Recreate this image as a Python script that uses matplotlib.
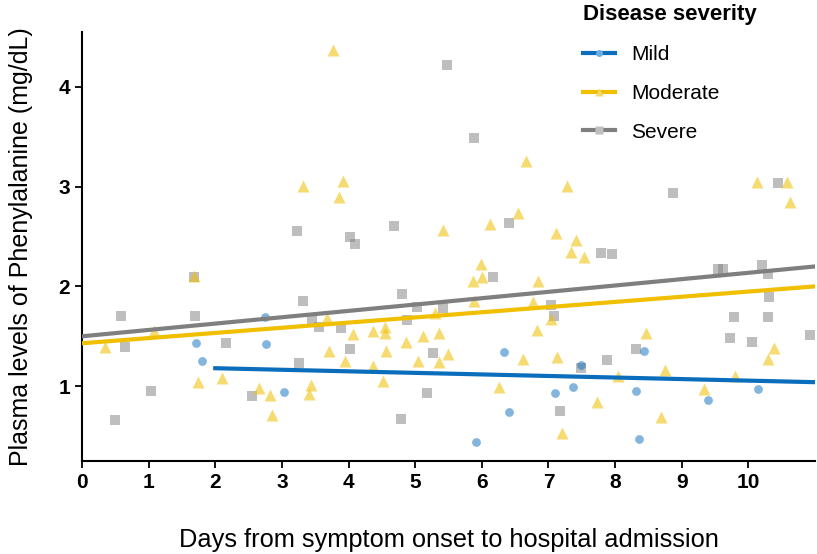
import numpy as np
import matplotlib.pyplot as plt
from matplotlib.lines import Line2D

plt.rcParams['font.family'] = ['Liberation Sans', 'DejaVu Sans']

# Mild
mild_x = [1.71, 1.80, 2.76, 2.74, 3.03, 5.92, 6.34, 6.41, 7.10, 7.37, 7.49,
          8.32, 8.36, 8.44, 9.40, 10.15]
mild_y = [1.43, 1.25, 1.42, 1.69, 0.94, 0.44, 1.34, 0.74, 0.93, 0.99, 1.21,
          0.95, 0.47, 1.35, 0.86, 0.97]

# Moderate
mod_x = [0.35, 1.08, 1.68, 1.74, 2.10, 2.66, 2.82, 2.85, 3.31, 3.41, 3.44,
         3.67, 3.71, 3.76, 3.86, 3.92, 3.95, 4.07, 4.37, 4.37, 4.52, 4.55,
         4.55, 4.56, 4.86, 5.04, 5.12, 5.30, 5.36, 5.36, 5.41, 5.49, 5.87,
         5.89, 5.99, 6.01, 6.13, 6.26, 6.55, 6.62, 6.67, 6.77, 6.83, 6.85,
         7.04, 7.12, 7.13, 7.21, 7.28, 7.34, 7.41, 7.53, 7.73, 8.05, 8.47,
         8.69, 8.75, 9.34, 9.80, 10.13, 10.29, 10.39, 10.58, 10.63]
mod_y = [1.39, 1.55, 2.10, 1.04, 1.08, 0.98, 0.91, 0.71, 3.01, 0.92, 1.01,
         1.68, 1.35, 4.37, 2.90, 3.06, 1.25, 1.52, 1.55, 1.20, 1.05, 1.59,
         1.53, 1.35, 1.44, 1.25, 1.50, 1.73, 1.53, 1.24, 2.57, 1.32, 2.05,
         1.85, 2.22, 2.09, 2.63, 0.99, 2.74, 1.27, 3.26, 1.84, 1.56, 2.05,
         1.67, 2.54, 1.29, 0.53, 3.01, 2.34, 2.47, 2.29, 0.84, 1.10, 1.53,
         0.69, 1.16, 0.97, 1.10, 3.05, 1.27, 1.38, 3.05, 2.85]

# Severe
sev_x = [0.50, 0.59, 0.65, 1.04, 1.68, 1.70, 2.16, 2.55, 3.23, 3.26, 3.32,
         3.45, 3.55, 3.89, 4.02, 4.10, 4.02, 4.68, 4.79, 4.80, 4.88, 5.03,
         5.17, 5.27, 5.42, 5.48, 5.89, 6.17, 6.41, 7.04, 7.09, 7.18, 7.49,
         7.79, 7.88, 7.96, 8.32, 8.87, 9.55, 9.62, 9.73, 9.79, 10.05, 10.20,
         10.29, 10.30, 10.31, 10.45, 10.92]
sev_y = [0.66, 1.70, 1.39, 0.95, 2.09, 1.70, 1.43, 0.90, 2.56, 1.23, 1.85,
         1.67, 1.59, 1.58, 2.50, 2.43, 1.37, 2.61, 0.67, 1.92, 1.66, 1.79,
         0.93, 1.33, 1.78, 4.22, 3.49, 2.09, 2.64, 1.81, 1.70, 0.75, 1.18,
         2.33, 1.26, 2.32, 1.37, 2.94, 2.17, 2.17, 1.48, 1.69, 1.44, 2.21,
         2.12, 1.69, 1.89, 3.04, 1.51]

# fitted trend lines (start, end)
mild_fit_x = [2.0, 11.0]
mild_fit_y = [1.18, 1.04]
mod_fit_x = [0.0, 11.0]
mod_fit_y = [1.43, 2.00]
sev_fit_x = [0.0, 11.0]
sev_fit_y = [1.50, 2.20]

c_mild = '#0a6ebd'
c_mod = '#f0bf00'
c_sev = '#7f7f7f'

fig = plt.figure(figsize=(8.17, 5.54), dpi=100)
ax = fig.add_axes([82/817, 1-461/554, (815-82)/817, (461-32)/554])

ax.scatter(sev_x, sev_y, marker='s', s=55, color=c_sev, alpha=0.5, lw=0, zorder=2)
ax.scatter(mod_x, mod_y, marker='^', s=75, color=c_mod, alpha=0.55, lw=0, zorder=2)
ax.scatter(mild_x, mild_y, marker='o', s=40, color=c_mild, alpha=0.5, lw=0, zorder=2)

ax.plot(mild_fit_x, mild_fit_y, color=c_mild, lw=3, zorder=3)
ax.plot(mod_fit_x, mod_fit_y, color=c_mod, lw=3, zorder=3)
ax.plot(sev_fit_x, sev_fit_y, color=c_sev, lw=3, zorder=3)

ax.set_xlim(0, 11)
ax.set_ylim(0.25, 4.55)
ax.set_xticks(range(0, 11))
ax.set_yticks([1, 2, 3, 4])
for s in ['top', 'right']:
    ax.spines[s].set_visible(False)
for s in ['left', 'bottom']:
    ax.spines[s].set_linewidth(1.5)
ax.tick_params(length=5, width=1.3, labelsize=15)
for lab in ax.get_xticklabels() + ax.get_yticklabels():
    lab.set_fontweight('bold')

ax.set_xlabel('Days from symptom onset to hospital admission', fontsize=18.3, labelpad=26)
ax.set_ylabel('Plasma levels of Phenylalanine (mg/dL)', fontsize=18, labelpad=18)

handles = [
    Line2D([], [], color=c_mild, lw=3, marker='o', ms=5, mfc='#6aaee0', mec='none'),
    Line2D([], [], color=c_mod, lw=3, marker='^', ms=6, mfc='#f5d770', mec='none'),
    Line2D([], [], color=c_sev, lw=3, marker='s', ms=6, mfc='#bfbfbf', mec='none'),
]
leg = fig.legend(handles, ['Mild', 'Moderate', 'Severe'], title='Disease severity',
                 loc='upper left', bbox_to_anchor=(575/817, 1+4/554), frameon=False,
                 fontsize=15, title_fontproperties={'weight': 'bold', 'size': 16},
                 alignment='left', labelspacing=0.95, handlelength=1.5,
                 handletextpad=0.8, borderaxespad=0)

fig.savefig('out.png', dpi=100)
